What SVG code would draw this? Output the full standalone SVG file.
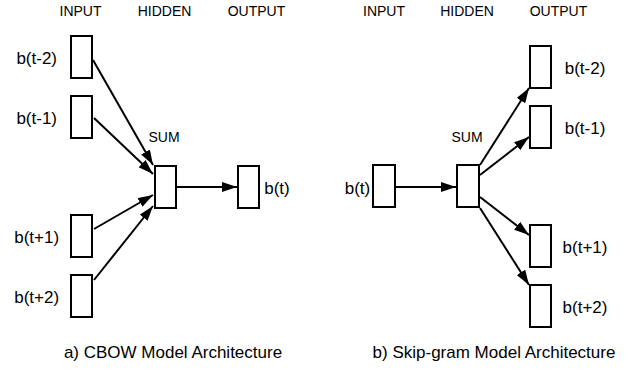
<svg xmlns="http://www.w3.org/2000/svg" width="638" height="371" viewBox="0 0 638 371">
<style>
.box{fill:#fff;stroke:#000;stroke-width:2}
.hdr{font-family:"Liberation Sans",Arial,sans-serif;font-size:14px;fill:#000;text-anchor:middle}
.lbl{font-family:"Liberation Sans",Arial,sans-serif;font-size:17px;fill:#000;text-anchor:middle}
.edge{stroke:#000;stroke-width:2;fill:none;marker-end:url(#ah)}
</style>
<defs>
<marker id="ah" markerUnits="userSpaceOnUse" markerWidth="16" markerHeight="11" refX="15" refY="5" orient="auto">
<path d="M0,0 L15,5 L0,10 z" fill="#000"/>
</marker>
</defs>
<rect width="638" height="371" fill="#fff"/>
<g id="headers">
<text class="hdr" x="80.5" y="16">INPUT</text>
<text class="hdr" x="164.5" y="16">HIDDEN</text>
<text class="hdr" x="256.5" y="16">OUTPUT</text>
<text class="hdr" x="384" y="16">INPUT</text>
<text class="hdr" x="467" y="16">HIDDEN</text>
<text class="hdr" x="558.5" y="16">OUTPUT</text>
</g>
<g id="connectors">
<line class="edge" x1="93" y1="60" x2="153" y2="165"/>
<line class="edge" x1="94" y1="118" x2="153" y2="174"/>
<line class="edge" x1="94" y1="229" x2="153" y2="195"/>
<line class="edge" x1="94" y1="280" x2="153" y2="206"/>
<line class="edge" x1="176" y1="187" x2="237" y2="187"/>
<line class="edge" x1="396" y1="187" x2="456" y2="187"/>
<line class="edge" x1="480" y1="165" x2="529" y2="88"/>
<line class="edge" x1="480" y1="175" x2="529" y2="137"/>
<line class="edge" x1="480" y1="197" x2="529" y2="235"/>
<line class="edge" x1="480" y1="208" x2="529" y2="285"/>
</g>
<g id="a-in-tm2"><rect class="box" x="71" y="36" width="21" height="42"/><text class="lbl" x="36.7" y="64">b(t-2)</text></g>
<g id="a-in-tm1"><rect class="box" x="71" y="96" width="21" height="42"/><text class="lbl" x="36.7" y="124">b(t-1)</text></g>
<g id="a-in-tp1"><rect class="box" x="71" y="215" width="21" height="42"/><text class="lbl" x="36.7" y="243">b(t+1)</text></g>
<g id="a-in-tp2"><rect class="box" x="71" y="275" width="21" height="42"/><text class="lbl" x="36.7" y="303">b(t+2)</text></g>
<g id="a-hidden"><rect class="box" x="155" y="166" width="21" height="42"/><text class="hdr" x="164" y="142">SUM</text></g>
<g id="a-out"><rect class="box" x="238" y="166" width="21" height="42"/><text class="lbl" x="277" y="193.5">b(t)</text></g>
<g id="b-in"><rect class="box" x="373" y="165" width="22" height="42"/><text class="lbl" x="357.5" y="193.5">b(t)</text></g>
<g id="b-hidden"><rect class="box" x="457" y="165" width="22" height="42"/><text class="hdr" x="467" y="142">SUM</text></g>
<g id="b-out-tm2"><rect class="box" x="530" y="46" width="21" height="42"/><text class="lbl" x="585" y="74">b(t-2)</text></g>
<g id="b-out-tm1"><rect class="box" x="530" y="106" width="21" height="42"/><text class="lbl" x="585" y="134">b(t-1)</text></g>
<g id="b-out-tp1"><rect class="box" x="530" y="225" width="21" height="42"/><text class="lbl" x="585" y="253">b(t+1)</text></g>
<g id="b-out-tp2"><rect class="box" x="530" y="285" width="21" height="42"/><text class="lbl" x="585" y="313">b(t+2)</text></g>
<g id="captions">
<text class="lbl" x="173" y="358">a) CBOW Model Architecture</text>
<text class="lbl" x="494" y="358">b) Skip-gram Model Architecture</text>
</g>
</svg>
